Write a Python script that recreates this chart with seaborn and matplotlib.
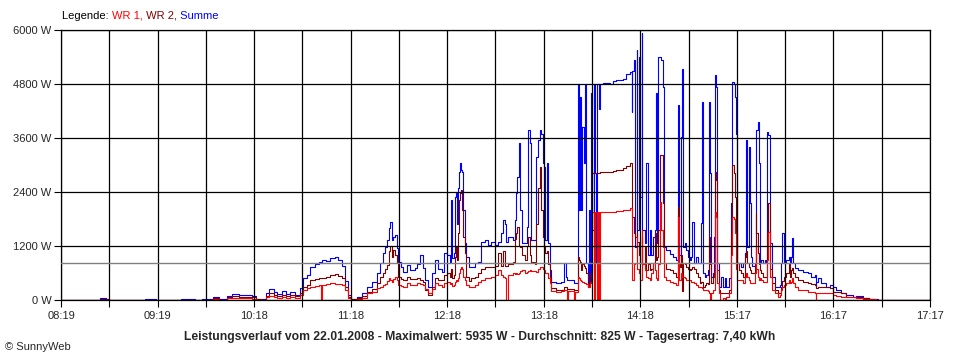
import numpy as np
import pandas as pd
import matplotlib
matplotlib.use("Agg")
import matplotlib.pyplot as plt
import seaborn as sns

# time axis: minutes after 08:19, values in W
zeit_min = [0, 24, 28, 30, 52, 59, 74, 83, 87, 94, 96, 98, 103, 106, 110, 114, 118, 121, 124, 127, 129, 132, 134, 137, 139, 142, 145, 148,
            150, 152, 154, 157, 160, 160.8, 161.5, 164, 166.5, 169.6, 171.7, 173.7, 175.8, 177.8, 179.3, 183, 186.1, 189.2, 192.3, 195.4,
            197.4, 199.1, 200.5, 202, 203.2, 203.6, 204.7, 205.7, 206.7, 207.8, 208.8, 210.2, 211.9, 214, 216, 219.1, 220.6, 222.2, 223.9, 225.3,
            227.4, 229.4, 231.5, 233.5, 235.6, 237.3, 238.7, 240.8, 241.3, 241.8, 243.3, 243.9, 244.4, 245.2, 245.9, 246.5, 246.9, 247.5, 248.1, 249,
            250, 251, 252.7, 254.1, 256.2, 258.2, 260.3, 262.4, 264.4, 266.5, 268.8, 270.6, 272.7, 273.7, 274.7, 275.8, 276.8, 279.9, 280.9, 281.5,
            282.6, 283.4, 284, 285.1, 287.1, 288.6, 289.4, 290.2, 291.2, 293.3, 294.3, 295.4, 296.4, 297.4, 298.1, 298.9, 299.9, 301, 301.8, 302.6,
            303.6, 306.7, 309.8, 311.5, 312.9, 313.3, 314, 317.4, 318, 320.1,
            320.2, 320.8, 321.6, 322.2, 322.8, 323.7, 324.3, 324.9, 326.3, 327, 327.8, 328.4, 329, 329.9, 330.5, 331.1, 331.9, 332.5, 333.2, 334,
            335.6, 339.8, 341.8, 343.9, 345.9, 348, 350.1, 352.1, 353.2, 353.8, 354.6, 355.2, 356.3, 356.9, 357.9, 358.5, 359.4, 360, 361.4, 362.4,
            363.5, 364.5, 365.5, 366.6, 367.6, 368.2, 369.1, 369.9, 370.7, 371.7, 372.4, 373.2, 374.8, 376.9, 379, 381, 381.8, 382.7,
            383, 383.6, 384.4, 385.1, 386.1, 387.1, 388.2, 389.2, 390.2, 390.8, 391.7, 393.3, 394.3, 395.4, 396, 396.6, 397.4, 398.5, 399.5, 400.5,
            401.2, 401.6, 402.2, 403.6, 404.5, 405.1, 405.7, 406.3, 407.3, 407.8, 408.8, 409.8, 410.9, 411.9, 413.5, 415, 415.6, 416.4, 417, 417.7,
            418.5, 419.7, 421.2, 422.2, 423.2, 423.8, 424.9, 425.7, 426.3, 426.9, 428, 429.4, 430, 430.4, 431.5, 432.1, 432.5, 433.5, 434.6, 435.6,
            436.6, 437.3, 437.9, 438.7, 439.1, 440.4, 441.8, 443.9, 444.9, 445.9, 446.5, 447.4, 449, 450.7,
            451.1, 452.1, 452.7, 453.2, 454.2, 456.3, 459.4, 462.4, 464.5, 466.6, 467.2, 467.6, 468.6, 470.7, 473.8, 475.9, 477.9, 480, 483.1, 486.2,
            490.3, 492.4, 496.5, 500, 504.7, 505.8, 538]

wr1 = [0, 10, 10, 0, 5, 0, 5, 0, 5, 30, 25, 5, 40, 50, 40, 45, 30, 10, 5, 60, 90, 70, 50, 70, 50, 70, 40, 110,
       220, 260, 300, 320, 330, 0, 330, 350, 370, 365, 355, 330, 220, 40, 10, 20, 50, 150, 180, 260,
       300, 330, 355, 420, 480, 450, 410, 470, 520, 450, 330, 310, 300, 370, 330, 340, 370, 350, 330, 250,
       150, 250, 370, 340, 300, 380, 410, 350, 370, 320, 340, 400, 450, 420, 500, 590, 700, 740, 700, 520,
       450, 333, 300, 296, 330, 407, 450, 481, 500, 510, 555, 666, 560, 520, 500, 0, 555, 600, 580, 590,
       580, 600, 640, 666, 600, 620, 640, 666, 650, 640, 620, 700, 740, 740, 700, 660, 600, 590, 500, 370,
       200, 180, 200, 220, 220, 0, 200, 0, 180, 200,
       518, 480, 444, 420, 400, 370, 380, 350, 296, 300, 370, 400, 1961, 0, 1961, 1961, 0, 1961, 0, 1961,
       1950, 1961, 1961, 1980, 1980, 1990, 2000, 2035, 1400, 444, 800, 814, 1406, 700, 600, 444, 1554, 800, 666, 518,
       480, 444, 600, 814, 666, 500, 444, 800, 2183, 1554, 1184, 518, 444, 407, 370, 333, 1850, 444,
       444, 600, 518, 518, 480, 444, 444, 444, 400, 400, 370, 333, 296, 296, 296, 270, 222, 222, 222, 200,
       148, 0, 148, 222, 222, 1961, 1850, 370, 148, 0, 0, 40, 0, 74, 148, 1000, 1850, 1800, 1480, 700,
       444, 444, 444, 370, 518, 600, 518, 444, 370, 370, 370, 600, 1200, 700, 518, 444, 481, 444, 407, 400,
       400, 900, 1517, 590, 518, 222, 148, 74, 110, 222, 296, 333, 370, 444,
       370, 400, 481, 370, 296, 222, 222, 185, 170, 163, 0, 150, 160, 160, 150, 148, 111, 100, 74, 74,
       60, 37, 30, 20, 10, 0, 0]

wr2 = [0, 25, 20, 0, 10, 0, 10, 0, 10, 40, 35, 10, 60, 80, 70, 75, 60, 15, 10, 90, 150, 110, 80, 120, 90, 110, 80, 150,
       300, 330, 440, 460, 490, 490, 490, 520, 555, 580, 540, 480, 300, 75, 20, 50, 80, 185, 250, 370,
       520, 600, 700, 780, 1100, 1200, 960, 1110, 1000, 815, 520, 470, 445, 520, 460, 470, 500, 445, 400, 220,
       110, 300, 480, 440, 440, 560, 590, 520, 700, 480, 560, 960, 1200, 900, 1500, 2220, 2370, 2440, 2000, 1400,
       1036, 518, 420, 481, 520, 600, 680, 740, 740, 740, 760, 1036, 760, 1100, 760, 760, 800, 850, 1350, 1500,
       1630, 1200, 1180, 1000, 900, 1200, 1400, 1000, 850, 800, 1700, 2500, 2960, 1998, 1400, 1200, 1050, 1100, 800, 518,
       259, 230, 230, 300, 280, 250, 240, 230, 230, 259,
       962, 900, 850, 666, 800, 750, 720, 600, 296, 350, 518, 600, 2812, 2812, 2812, 2812, 2830, 2830, 2830, 2850,
       2850, 2850, 2870, 2900, 2900, 2940, 2980, 3034, 2500, 1850, 1500, 1400, 1480, 1300, 1000, 814, 1400, 800, 1184, 666,
       800, 666, 700, 814, 1480, 900, 962, 1554, 3218, 3218, 2146, 814, 700, 666, 600, 518, 2071, 814,
       740, 1000, 200, 814, 800, 740, 700, 666, 700, 740, 700, 592, 518, 370, 400, 400, 296, 330, 370, 350,
       1406, 800, 370, 518, 600, 2850, 2664, 666, 222, 160, 148, 148, 148, 148, 222, 1500, 3000, 2812, 2294, 1500,
       814, 666, 592, 518, 962, 1100, 814, 740, 666, 592, 592, 800, 1924, 1500, 1036, 800, 666, 600, 518, 518,
       518, 1500, 2146, 814, 700, 370, 222, 148, 148, 296, 420, 518, 592, 814,
       518, 666, 703, 600, 518, 444, 407, 370, 350, 333, 300, 259, 296, 296, 280, 259, 185, 170, 148, 74,
       65, 59, 40, 30, 10, 0, 0]

summe = [0, 40, 30, 0, 20, 0, 20, 0, 20, 70, 60, 20, 100, 130, 110, 120, 90, 25, 20, 150, 240, 180, 130, 190, 140, 180, 120, 260,
         490, 560, 740, 800, 850, 820, 880, 870, 925, 950, 890, 760, 420, 110, 20, 70, 150, 300, 410, 590,
         815, 1040, 1180, 1330, 1600, 1740, 1330, 1400, 1450, 1150, 850, 740, 620, 780, 660, 720, 800, 1000, 720, 440,
         300, 590, 890, 700, 630, 1040, 1000, 850, 2220, 930, 1040, 2300, 2368, 1700, 2500, 2850, 3034, 2900, 2850, 2000,
         1258, 962, 740, 740, 814, 850, 1295, 1332, 1221, 1300, 1221, 1300, 1480, 1776, 1700, 1300, 1406, 1330, 1776, 2368,
         2738, 3478, 1998, 1258, 1258, 1628, 3774, 3478, 1332, 1332, 3182, 3560, 3774, 3700, 3034, 2960, 1332, 3034, 1258, 666,
         407, 370, 407, 814, 518, 444, 444, 370, 370, 480,
         4810, 1998, 4514, 1998, 3848, 3034, 4770, 814, 296, 1998, 370, 4590, 1554, 4810, 2812, 814, 4810, 4810, 4250, 4810,
         4830, 4810, 4860, 4884, 4884, 4920, 5032, 5070, 4180, 5100, 5328, 1184, 5550, 1554, 5402, 2294, 5935, 1554, 1260, 3034,
         1000, 1554, 1000, 1400, 1554, 4590, 1260, 5402, 5402, 5330, 4736, 1184, 1110, 1030, 962, 890, 4330, 1000,
         1000, 3626, 5143, 1184, 1260, 1110, 962, 890, 962, 1739, 814, 962, 814, 814, 1702, 4403, 592, 518, 555, 666,
         4403, 2812, 518, 592, 1406, 4995, 4736, 814, 296, 296, 518, 296, 481, 296, 481, 2146, 4847, 4810, 4514, 3700,
         814, 814, 740, 814, 1036, 3552, 1184, 3404, 2146, 962, 750, 814, 2000, 3774, 3959, 3034, 814, 890, 814, 890,
         814, 3737, 3660, 2664, 1260, 518, 296, 296, 333, 814, 1480, 814, 890, 962,
         814, 962, 1369, 814, 703, 666, 629, 592, 518, 555, 296, 400, 481, 370, 296, 330, 296, 222, 148, 111,
         74, 90, 37, 25, 18, 0, 0]

x_labels = ["08:19", "09:19", "10:18", "11:18", "12:18", "13:18", "14:18", "15:17", "16:17", "17:17"]
y_ticks = [0, 1200, 2400, 3600, 4800, 6000]
durchschnitt = 825
titel = "Leistungsverlauf vom 22.01.2008 - Maximalwert: 5935 W - Durchschnitt: 825 W - Tagesertrag: 7,40 kWh"

farben = {"WR 1": "#ff0000", "WR 2": "#800000", "Summe": "#0000ff"}

df = pd.DataFrame({"t": zeit_min, "WR 1": wr1, "WR 2": wr2, "Summe": summe})
df_long = df.melt(id_vars="t", var_name="serie", value_name="W")

sns.set_style("white")
plt.rcParams['font.family'] = ['Liberation Sans', 'DejaVu Sans']

fig = plt.figure(figsize=(9.6, 3.6), dpi=100)
ax = fig.add_axes([61 / 960, 60 / 360, 869 / 960, 270 / 360])

sns.lineplot(data=df_long, x="t", y="W", hue="serie", hue_order=["Summe", "WR 2", "WR 1"],
             palette=farben, estimator=None, drawstyle="steps-post", linewidth=0.8,
             legend=False, ax=ax)

# average line
ax.axhline(durchschnitt, color="#808080", linewidth=1.0, zorder=3)

ax.set_xlim(0, 538)
ax.set_ylim(0, 6000)
ax.set_xticks(np.linspace(0, 538, 19))
ax.set_xticklabels([x_labels[i // 2] if i % 2 == 0 else "" for i in range(19)], fontsize=8)
ax.set_yticks(y_ticks)
ax.set_yticklabels([f"{v} W" for v in y_ticks], fontsize=8)
ax.set_xlabel("")
ax.set_ylabel("")
ax.grid(True, color="black", linewidth=0.9)
ax.set_axisbelow(False)
ax.tick_params(axis="x", direction="out", length=5, width=0.8, color="black", pad=3)
ax.tick_params(axis="y", direction="out", length=5, width=0.8, color="black", pad=2)
ax.tick_params(bottom=True, left=True)
for sp in ax.spines.values():
    sp.set_color("black")
    sp.set_linewidth(0.9)

fig.text(0.5, 1 - 337 / 360, titel, ha="center", va="center", fontsize=8.7, fontweight="bold")
fig.text(5 / 960, 1 - 347 / 360, "\u00a9 SunnyWeb", ha="left", va="center", fontsize=8)

# coloured legend line at the top
renderer = fig.canvas.get_renderer()
legend_parts = ["Legende: ", "WR 1,", " WR 2,", " Summe"]
legend_cols = ["black", farben["WR 1"], farben["WR 2"], farben["Summe"]]
xpos = 62 / 960
for txt, col in zip(legend_parts, legend_cols):
    t = fig.text(xpos, 1 - 16 / 360, txt, color=col, fontsize=8, ha="left", va="center")
    bb = t.get_window_extent(renderer=renderer)
    xpos = bb.x1 / fig.bbox.width

fig.savefig("out.png", dpi=100)
